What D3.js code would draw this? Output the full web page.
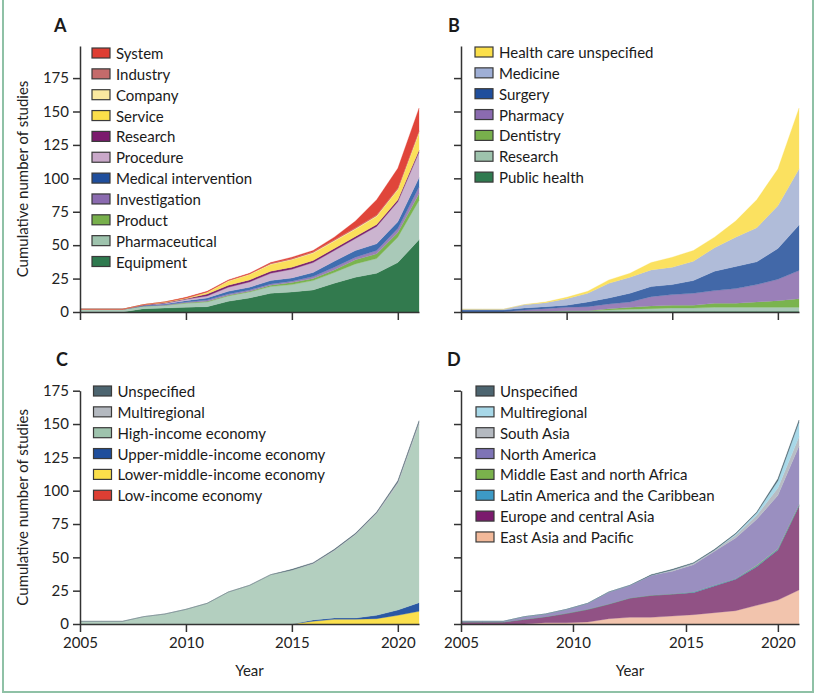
<!DOCTYPE html>
<html>
<head>
<meta charset="utf-8">
<script src="https://cdn.jsdelivr.net/npm/d3@7"></script>
<style>
  body { margin: 0; background: #fff; }
  svg { font-family: Lato, "Open Sans", sans-serif; }
  .axis path, .axis line { stroke: #333; stroke-width: 1.5; }
  .axis text { font-size: 15px; fill: #222; font-family: Lato, sans-serif; }
</style>
</head>
<body>
<div id="chart"></div>
<script>
// years on the x axis
const years = [2005, 2006, 2007, 2008, 2009, 2010, 2011, 2012, 2013, 2014, 2015, 2016, 2017, 2018, 2019, 2020, 2021];
const yTicks = [0, 25, 50, 75, 100, 125, 150, 175];
const xTicks = [2005, 2010, 2015, 2020];
// panel D has its 2010 / 2015 ticks drawn off the year grid in the original
const xTicksD = [2005, 2010.3, 2015.65, 2020];

// A: type of technology (cumulative studies per year)
const equipment = [0, 0, 0, 2.5, 3, 3.5, 4, 8, 10.5, 14, 15, 16.5, 21.5, 26, 29, 37, 54];
const pharmaceutical = [2, 2, 2, 2, 2, 3, 3.5, 4, 4.5, 5, 5.5, 7, 8, 10, 11, 19, 29.5];
const product = [0, 0, 0, 0, 0, 0.5, 0.5, 0.5, 0.5, 1, 1.5, 1.5, 2, 3, 3.5, 3.5, 5];
const investigation = [0, 0, 0, 0, 0.5, 0.5, 1, 1, 1, 1, 1, 1.5, 2, 2, 2.5, 3, 5];
const medicalIntervention = [0, 0, 0, 0.5, 0.5, 1, 1.5, 2, 2, 2.5, 2.5, 3, 4.5, 5, 5, 5, 7];
const procedure = [0, 0, 0, 0, 0.5, 1, 1.5, 3, 4, 5.5, 6.5, 7.5, 8, 9, 13, 15, 19];
const researchA = [0, 0, 0, 0.5, 0.5, 0.5, 1.5, 1.5, 1.5, 1.5, 1.5, 1.5, 1.5, 1.5, 1.5, 1.5, 1.5];
const service = [0, 0, 0, 0, 0.5, 0.5, 1, 3, 4, 5, 5.5, 5.5, 5.5, 5.5, 6, 7.5, 13];
const company = [0, 0, 0, 0, 0, 0, 0.5, 0.5, 0.5, 0.5, 0.5, 0.5, 0.5, 0.5, 0.5, 0.5, 1];
const industry = [0, 0, 0, 0, 0, 0, 0, 0, 0, 0.5, 0.5, 0.5, 0.5, 0.5, 0.5, 0.5, 0.5];
const system = [0, 0, 0, 0, 0, 0.5, 0.5, 0.5, 0.5, 0.5, 1, 1, 2, 5, 11.5, 15, 17];

// B: medical field
const publicHealth = [0, 0, 0, 0.5, 0.5, 0.5, 0.5, 0.5, 0.5, 0.5, 0.5, 0.5, 0.5, 0.5, 0.5, 0.5, 0.5];
const researchB = [0, 0, 0, 0, 0, 0.5, 0.5, 1, 1.5, 2, 2.5, 2.5, 3, 3, 3, 3, 3];
const dentistry = [0, 0, 0, 0, 0, 0, 0, 1, 1.5, 2, 2, 2, 3, 3, 4, 5, 6.5];
const pharmacy = [0, 0, 0, 1, 2, 2.5, 3, 3.5, 4, 7, 8, 9, 9.5, 11, 13, 16, 21];
const surgery = [1.5, 1.5, 1.5, 1.5, 1.5, 1.5, 3.5, 4.5, 6.5, 7.5, 7.5, 9.5, 14.5, 16.5, 17, 23, 34];
const medicine = [0.5, 0.5, 0.5, 2.5, 3, 5, 6.5, 11, 12, 12.5, 13, 14.5, 17.5, 22, 25.5, 32, 42];
const healthCareUnspecified = [0, 0, 0, 0, 0.5, 1, 1.5, 2.5, 3, 5.5, 7.5, 8, 8, 12, 21, 27.5, 45.5];

// C: income group
const lowIncome = [0, 0, 0, 0, 0, 0, 0, 0, 0, 0, 0, 0, 0, 0, 0, 0, 0];
const lowerMiddleIncome = [0, 0, 0, 0, 0, 0, 0, 0, 0, 0, 0, 2, 3.5, 3.5, 4, 6.5, 9.5];
const upperMiddleIncome = [0, 0, 0, 0, 0, 0, 0, 0, 0, 0, 0, 1, 1, 1, 2.5, 4, 6.5];
const highIncome = [2, 2, 2, 5.5, 7.5, 11, 15.5, 24, 29, 37, 40.5, 42, 50.5, 62.5, 76, 94.5, 133.5];
const multiregionalC = [0, 0, 0, 0, 0, 0, 0, 0, 0, 0, 0, 0.5, 0.5, 0.5, 1, 1.5, 2];
const unspecifiedC = [0, 0, 0, 0, 0, 0, 0, 0, 0, 0, 0.5, 0.5, 0.5, 0.5, 0.5, 1, 1];

// D: world region
const eastAsia = [0, 0, 0, 0, 1, 1, 1.5, 4, 5, 5, 6, 7, 8.5, 10, 14, 18, 25.5];
const europe = [1.5, 1.5, 1.5, 3.5, 4.5, 7, 9.5, 11, 14.5, 16.5, 16.5, 16.5, 20, 23.5, 29, 37.5, 63];
const latinAmerica = [0, 0, 0, 0, 0, 0, 0, 0, 0, 0, 0, 0.5, 0.5, 0.5, 0.5, 0.5, 0.5];
const middleEast = [0, 0, 0, 0, 0, 0, 0, 0, 0, 0, 0, 0, 0, 0, 0.5, 0.5, 0.5];
const northAmerica = [0.5, 0.5, 0.5, 2, 2, 3, 4.5, 9, 9.5, 15, 17, 20.5, 25.5, 30.5, 34.5, 40, 44];
const southAsia = [0, 0, 0, 0, 0, 0, 0, 0, 0, 0, 1, 1, 1, 2, 3, 5.5, 7];
const multiregionalD = [0, 0, 0, 0, 0, 0, 0, 0, 0, 0, 0, 0, 0, 1, 2, 5.5, 11];
const unspecifiedD = [0, 0, 0, 0, 0, 0, 0, 0, 0, 0.5, 0.5, 0.5, 0.5, 0.5, 0.5, 1.5, 1.5];

// legend order (top of stack first)
const labelsA = ["System", "Industry", "Company", "Service", "Research", "Procedure", "Medical intervention", "Investigation", "Product", "Pharmaceutical", "Equipment"];
const seriesA = [system, industry, company, service, researchA, procedure, medicalIntervention, investigation, product, pharmaceutical, equipment];
const swatchA = ["#de3e33", "#c46b6b", "#fbe9a0", "#fbdf4a", "#7b1a6d", "#c9a8c9", "#1f4e9c", "#8b6bb0", "#78b04c", "#9ec3ad", "#2f7a4f"];
const fillA = ["#e0453a", "#c46b6b", "#fbeaa5", "#fbe05a", "#7b2470", "#cbb4cf", "#3f6eb0", "#9a80b8", "#7ab44e", "#a9c9b8", "#327a4e"];

const labelsB = ["Health care unspecified", "Medicine", "Surgery", "Pharmacy", "Dentistry", "Research", "Public health"];
const seriesB = [healthCareUnspecified, medicine, surgery, pharmacy, dentistry, researchB, publicHealth];
const swatchB = ["#fbdf4a", "#9fafd6", "#1f4e9c", "#8b6bb0", "#78b04c", "#9ec3ad", "#2f7a4f"];
const fillB = ["#fbe160", "#b0bcd9", "#4268a8", "#9a80b8", "#7ab44e", "#a9c9b8", "#327a4e"];

const labelsC = ["Unspecified", "Multiregional", "High-income economy", "Upper-middle-income economy", "Lower-middle-income economy", "Low-income economy"];
const seriesC = [unspecifiedC, multiregionalC, highIncome, upperMiddleIncome, lowerMiddleIncome, lowIncome];
const swatchC = ["#4d6570", "#b4b9c0", "#9ec3ad", "#1f4e9c", "#fbdf4a", "#de3e33"];
const fillC = ["#4d6570", "#b8bdc4", "#b3cfbf", "#2a58a4", "#fbe04e", "#de3e33"];

const labelsD = ["Unspecified", "Multiregional", "South Asia", "North America", "Middle East and north Africa", "Latin America and the Caribbean", "Europe and central Asia", "East Asia and Pacific"];
const seriesD = [unspecifiedD, multiregionalD, southAsia, northAmerica, middleEast, latinAmerica, europe, eastAsia];
const swatchD = ["#4d6570", "#a8d8e8", "#b4b9c0", "#7e74b6", "#7ab24c", "#3d9ac6", "#7b1a6d", "#f2b99a"];
const fillD = ["#4d6570", "#a8d8e8", "#b8bdc4", "#9a8fc0", "#7ab44e", "#3d9ac6", "#915285", "#f2c4ad"];

const width = 822;
const height = 700;

const svg = d3.select("#chart")
  .append("svg")
  .attr("width", width)
  .attr("height", height);

// green frame round the figure (top edge is cropped off in the original)
svg.append("rect")
  .attr("x", 3)
  .attr("y", -10)
  .attr("width", 810)
  .attr("height", 702)
  .attr("fill", "none")
  .attr("stroke", "#8fc1a6")
  .attr("stroke-width", 2);

const panels = [
  { letter: "A", labels: labelsA, series: seriesA, swatch: swatchA, fill: fillA,
    left: 80, right: 419, base: 312, top: 46, yMax: 199, letterX: 54, letterY: 32,
    legendX: 92, legendY: 53, showY: true, showX: false, xt: xTicks },
  { letter: "B", labels: labelsB, series: seriesB, swatch: swatchB, fill: fillB,
    left: 461, right: 799, base: 312, top: 46, yMax: 199, letterX: 448, letterY: 32,
    legendX: 475, legendY: 52, showY: false, showX: false, xt: xTicks },
  { letter: "C", labels: labelsC, series: seriesC, swatch: swatchC, fill: fillC,
    left: 80, right: 419, base: 624, top: 390.7, yMax: 175, letterX: 56, letterY: 366,
    legendX: 93.5, legendY: 391, showY: true, showX: true, xt: xTicks },
  { letter: "D", labels: labelsD, series: seriesD, swatch: swatchD, fill: fillD,
    left: 461, right: 799, base: 624, top: 390.7, yMax: 175, letterX: 447, letterY: 366,
    legendX: 476, legendY: 391, showY: false, showX: true, xt: xTicksD },
];

const rowGap = 20.85;

panels.forEach((p) => {
  const g = svg.append("g").attr("class", `panel panel-${p.letter}`);

  const x = d3.scaleLinear().domain([2005, 2021]).range([p.left, p.right]);
  const y = d3.scaleLinear().domain([0, p.yMax]).range([p.base, p.top]);

  // stack from the bottom layer upwards
  const keys = p.labels.slice().reverse();
  const rows = years.map((year, i) => {
    const row = { year };
    p.labels.forEach((label, j) => { row[label] = p.series[j][i]; });
    return row;
  });
  const stacked = d3.stack().keys(keys)(rows);

  const area = d3.area()
    .x((d) => x(d.data.year))
    .y0((d) => y(d[0]))
    .y1((d) => y(d[1]));

  g.append("g")
    .selectAll("path")
    .data(stacked)
    .join("path")
    .attr("d", area)
    .attr("fill", (d) => p.fill[p.labels.indexOf(d.key)])
    .attr("stroke", (d) => p.fill[p.labels.indexOf(d.key)])
    .attr("stroke-width", 0.3);

  // axes
  g.append("g")
    .attr("class", "axis")
    .attr("transform", `translate(${p.left},0)`)
    .call(
      d3.axisLeft(y)
        .tickValues(yTicks)
        .tickSize(7)
        .tickSizeOuter(0)
        .tickPadding(4)
        .tickFormat(p.showY ? d3.format("d") : () => "")
    );

  g.append("g")
    .attr("class", "axis")
    .attr("transform", `translate(0,${p.base})`)
    .call(
      d3.axisBottom(x)
        .tickValues(p.xt)
        .tickSize(8)
        .tickSizeOuter(0)
        .tickPadding(5)
        .tickFormat(p.showX ? (d) => Math.floor(d) : () => "")
    );

  if (p.showY) {
    g.append("text")
      .attr("transform", `translate(22,${(p.base + p.top) / 2}) rotate(-90)`)
      .attr("text-anchor", "middle")
      .attr("dominant-baseline", "central")
      .attr("font-size", 15)
      .attr("fill", "#222")
      .text("Cumulative number of studies");
  }

  if (p.showX) {
    g.append("text")
      .attr("x", (p.left + p.right) / 2)
      .attr("y", p.base + 52)
      .attr("text-anchor", "middle")
      .attr("font-size", 15)
      .attr("fill", "#222")
      .text("Year");
  }

  // panel letter
  g.append("text")
    .attr("x", p.letterX)
    .attr("y", p.letterY)
    .attr("font-size", 18)
    .attr("font-weight", "bold")
    .attr("fill", "#1a1a1a")
    .text(p.letter);

  // legend
  const legend = g.append("g")
    .selectAll("g")
    .data(p.labels)
    .join("g")
    .attr("transform", (d, i) => `translate(${p.legendX},${p.legendY + i * rowGap})`);

  legend.append("rect")
    .attr("x", 0)
    .attr("y", -5)
    .attr("width", 18)
    .attr("height", 10)
    .attr("fill", (d, i) => p.swatch[i])
    .attr("stroke", "#3a3a3a")
    .attr("stroke-width", 1.2);

  legend.append("text")
    .attr("x", 24)
    .attr("y", 0)
    .attr("dominant-baseline", "central")
    .attr("font-size", 15)
    .attr("fill", "#1a1a1a")
    .text((d) => d);
});
</script>
</body>
</html>
